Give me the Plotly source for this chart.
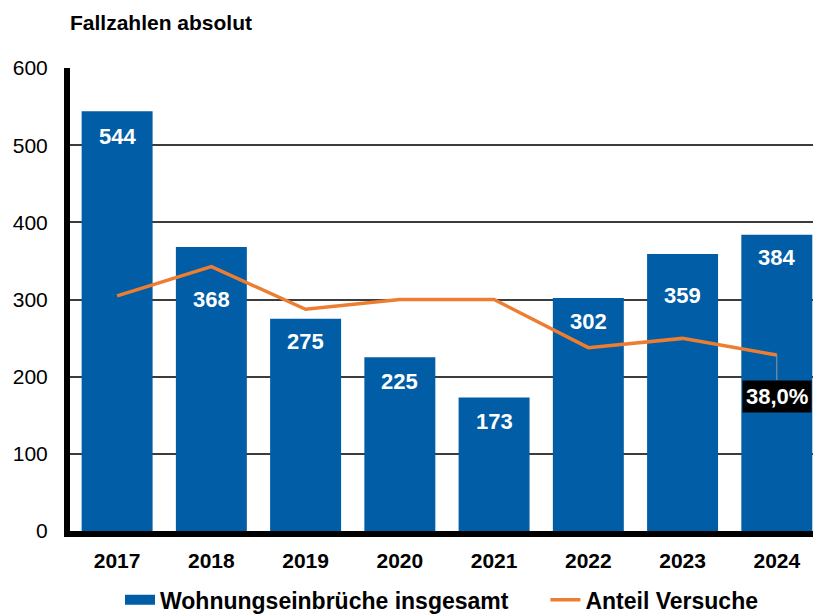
import plotly.graph_objects as go

years = ["2017", "2018", "2019", "2020", "2021", "2022", "2023", "2024"]
cases = [544, 368, 275, 225, 173, 302, 359, 384]
attempt_share = [50.8, 57.1, 47.9, 50.0, 50.0, 39.6, 41.6, 38.0]
y_ticks = [0, 100, 200, 300, 400, 500, 600]

# style: label pixel offsets below the bar top
label_shift = [-25, -52, -23, -24, -24, -24, -42, -23]

FONT = "Liberation Sans, Arial, sans-serif"
BLUE = "#005DA6"
ORANGE = "#ED7D31"
NBSP = "\u00a0"

fig = go.Figure()
fig.add_trace(go.Bar(
    x=years, y=cases, name="Wohnungseinbrüche insgesamt",
    marker=dict(color=BLUE, line=dict(width=0)),
    width=0.753, hoverinfo="x+y", showlegend=False,
))
# legend-only entry to get the wide rectangular key of the original
fig.add_trace(go.Scatter(
    x=[None], y=[None], name="Wohnungseinbrüche insgesamt" + NBSP * 5,
    mode="lines", line=dict(color=BLUE, width=12), hoverinfo="skip",
))
fig.add_trace(go.Scatter(
    x=years, y=attempt_share, name="Anteil Versuche", yaxis="y2",
    mode="lines", line=dict(color=ORANGE, width=3.5),
))

annotations = []
for i, (v, s) in enumerate(zip(cases, label_shift)):
    annotations.append(dict(
        x=i, y=v, xref="x", yref="y", text=f"<b>{v}</b>", showarrow=False,
        xanchor="center", yanchor="middle", yshift=s,
        font=dict(family=FONT, size=22, color="white"),
    ))

annotations.append(dict(
    x=len(years) - 1, y=attempt_share[-1], xref="x", yref="y2",
    text="<b>" + f"{attempt_share[-1]:.1f}".replace(".", ",") + "%</b>",
    showarrow=True, arrowhead=0, arrowwidth=1, arrowcolor="#9A9A9A",
    ax=0, ay=41, bgcolor="black", borderpad=3,
    font=dict(family=FONT, size=22, color="white"),
))

annotations.append(dict(
    xref="x domain", yref="y domain", x=-0.003, y=1.0, yshift=46,
    xanchor="left", yanchor="middle", showarrow=False,
    text="<b>Fallzahlen absolut</b>",
    font=dict(family=FONT, size=21, color="black"),
))

fig.update_layout(
    width=813, height=614,
    margin=dict(l=70, r=0, t=68, b=83),
    paper_bgcolor="white", plot_bgcolor="white",
    font=dict(family=FONT, color="black"),
    annotations=annotations,
    xaxis=dict(
        type="category", range=[-0.5, 7.384], showgrid=False,
        showline=True, linecolor="black", linewidth=6,
        ticks="", tickfont=dict(family=FONT, size=21, color="black", weight="bold"),
        ticklabelstandoff=6, fixedrange=True,
    ),
    yaxis=dict(
        range=[0, 600], tickvals=y_ticks, showgrid=True,
        gridcolor="#3C3C3C", gridwidth=1.6, zeroline=False,
        showline=True, linecolor="black", linewidth=6,
        ticks="", tickfont=dict(family=FONT, size=21, color="black"),
        ticklabelstandoff=12, fixedrange=True,
    ),
    yaxis2=dict(range=[0, 100], overlaying="y", visible=False, fixedrange=True),
    legend=dict(
        orientation="h", x=0.5, xanchor="center", yref="container",
        y=0.023, yanchor="middle",
        font=dict(family=FONT, size=23, color="black", weight="bold"),
        itemwidth=30, bgcolor="rgba(0,0,0,0)",
    ),
    showlegend=True,
)
fig.write_html("out.html", config={"displayModeBar": False},
               post_script="document.body.style.margin='0px';")
